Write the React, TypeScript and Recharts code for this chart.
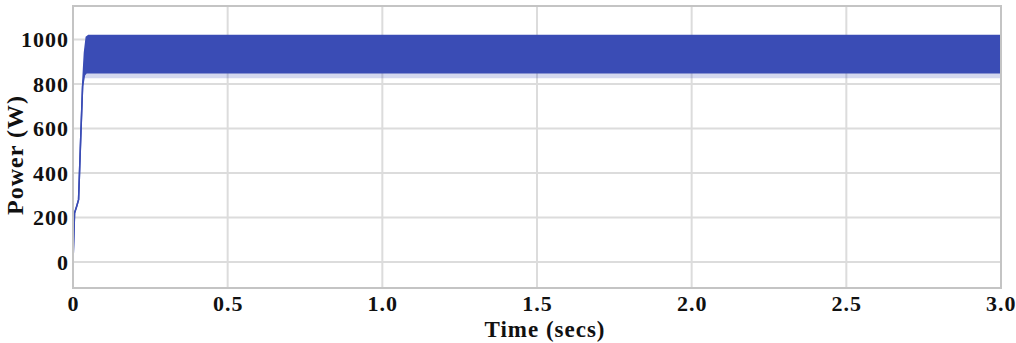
import {
  Area,
  CartesianGrid,
  ComposedChart,
  ReferenceArea,
  XAxis,
  YAxis,
} from "recharts";

// time (s) and the envelope of the power trace (W)
const timeS = [0, 0.005, 0.012, 0.018, 0.025, 0.031, 0.037, 0.043, 0.05, 1.0, 2.0, 3.0];
const powerHigh = [0, 220, 250, 280, 560, 790, 940, 1010, 1018, 1018, 1018, 1018];
const powerLow = [0, 220, 250, 280, 560, 790, 840, 850, 850, 850, 850, 850];
const fadeLow = [0, 220, 250, 280, 560, 790, 825, 825, 825, 825, 825, 825];

const xTicks = [0, 0.5, 1.0, 1.5, 2.0, 2.5, 3.0];
const yTicks = [0, 200, 400, 600, 800, 1000];

const rows = timeS.map((t, i) => ({
  t,
  band: [powerLow[i], powerHigh[i]],
  fade: [fadeLow[i], powerLow[i]],
}));

const FONT = "'Liberation Serif', 'Times New Roman', serif";
const BLUE = "#3a4cb5";
const tickStyle = { fontSize: 22, fontWeight: 700, fontFamily: FONT, fill: "#111", letterSpacing: 1 };

export default function App() {
  return (
    <div style={{ position: "absolute", left: 0, top: 0, background: "#fff" }}>
      <ComposedChart
        width={1016}
        height={343}
        data={rows}
        margin={{ top: 6, right: 15, left: 0, bottom: 0 }}
      >
        <CartesianGrid stroke="#dcdcdc" strokeWidth={2} horizontalValues={yTicks} verticalValues={xTicks} />
        <XAxis
          dataKey="t"
          type="number"
          domain={[0, 3]}
          ticks={xTicks}
          tickFormatter={(v: number) => (v === 0 ? "0" : v.toFixed(1))}
          axisLine={false}
          tickLine={false}
          tickSize={0}
          tickMargin={7}
          height={55}
          tick={{ ...tickStyle, dx: 0.5 }}
          label={{
            value: "Time (secs)",
            position: "insideBottom",
            offset: 6,
            dx: 8,
            style: { fontSize: 23, fontWeight: 700, fontFamily: FONT, fill: "#111", letterSpacing: 1 },
          }}
        />
        <YAxis
          type="number"
          domain={[-117, 1150]}
          ticks={yTicks}
          axisLine={false}
          tickLine={false}
          tickSize={0}
          tickMargin={4}
          width={73}
          tick={tickStyle}
          label={{
            value: "Power (W)",
            angle: -90,
            position: "insideLeft",
            offset: 14,
            dy: 8,
            style: { fontSize: 24, fontWeight: 700, fontFamily: FONT, fill: "#111", textAnchor: "middle", letterSpacing: 1 },
          }}
        />
        <Area
          type="linear"
          dataKey="fade"
          stroke="none"
          fill={BLUE}
          fillOpacity={0.22}
          isAnimationActive={false}
        />
        <Area
          type="linear"
          dataKey="band"
          stroke={BLUE}
          strokeWidth={1.5}
          fill={BLUE}
          fillOpacity={1}
          isAnimationActive={false}
        />
        <ReferenceArea
          x1={0}
          x2={3}
          y1={-117}
          y2={1150}
          fill="none"
          stroke="#c4c4c4"
          strokeWidth={2}
          ifOverflow="extendDomain"
        />
      </ComposedChart>
    </div>
  );
}
